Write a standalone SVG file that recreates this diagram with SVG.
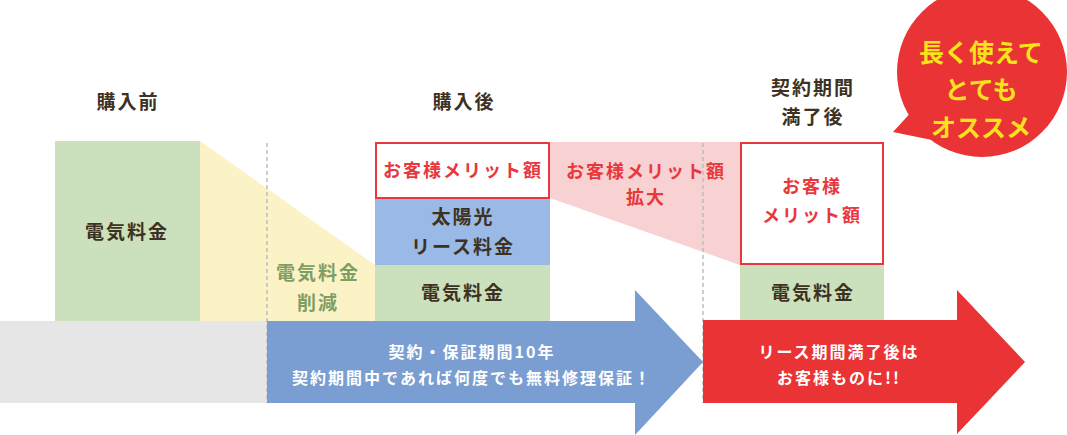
<svg xmlns="http://www.w3.org/2000/svg" width="1067" height="435" viewBox="0 0 1067 435">
<style>
text{font-family:"Noto Sans CJK JP","Noto Sans CJK SC",sans-serif;font-weight:bold;text-anchor:middle}
.dk{fill:#3d3222;font-size:19px;letter-spacing:2px}
.rd{fill:#e8383d;font-size:18px;letter-spacing:2px}
.gr{fill:#7f9e63;font-size:19px;letter-spacing:2px}
.wt{fill:#ffffff;font-size:16px;letter-spacing:2px}
.yl{fill:#f7e31c;font-size:25px}
.dash{stroke:#bdbdbd;stroke-width:1.5;stroke-dasharray:4 3;fill:none}
</style>
<rect width="1067" height="435" fill="#ffffff"/>
<g id="bands">
<polygon points="200,141 375,265 375,321 200,321" fill="#fbf2c6"/>
<polygon points="550,142 740,142 740,265 550,198" fill="#f8d2d2"/>
<rect x="0" y="321" width="267" height="82" fill="#e6e6e6"/>
</g>
<g id="col-before">
<rect x="55" y="141" width="145" height="180" fill="#cbe0bc"/>
<text class="dk" x="128" y="109">購入前</text>
<text class="dk" x="127" y="239">電気料金</text>
</g>
<g id="reduction"><text class="gr" x="318" y="280">電気料金</text><text class="gr" x="318" y="310">削減</text></g>
<g id="col-after">
<text class="dk" x="464" y="109">購入後</text>
<rect x="376" y="143" width="173" height="55" fill="#ffffff" stroke="#e8383d" stroke-width="2"/>
<text class="rd" x="463" y="177">お客様メリット額</text>
<rect x="375" y="199" width="175" height="66" fill="#9ab9e6"/>
<text class="dk" x="463" y="224">太陽光</text>
<text class="dk" x="463" y="254">リース料金</text>
<rect x="375" y="265" width="175" height="56" fill="#cbe0bc"/>
<text class="dk" x="463" y="300">電気料金</text>
</g>
<g id="expand"><text class="rd" x="646" y="178">お客様メリット額</text><text class="rd" x="646" y="204">拡大</text></g>
<g id="col-end">
<text class="dk" x="813" y="95">契約期間</text>
<text class="dk" x="813" y="124">満了後</text>
<rect x="741" y="143" width="142" height="121" fill="#ffffff" stroke="#e8383d" stroke-width="2"/>
<text class="rd" x="812" y="193">お客様</text>
<text class="rd" x="812" y="222">メリット額</text>
<rect x="740" y="265" width="144" height="56" fill="#cbe0bc"/>
<text class="dk" x="813" y="300">電気料金</text>
</g>
<g id="connectors">
<path class="dash" d="M267,143 V403"/>
<path class="dash" d="M703,143 V403"/>
<g id="arrow-blue">
<polygon points="267,321 635,321 635,290 703,362 635,435 635,403 267,403" fill="#7a9ed1"/>
<text class="wt" x="472" y="358">契約・保証期間10年</text>
<text class="wt" x="472" y="384">契約期間中であれば何度でも無料修理保証！</text>
</g>
<g id="arrow-red">
<polygon points="703,320 957,320 957,290 1025,362 957,434 957,403 703,403" fill="#e93334"/>
<text class="wt" x="839" y="358">リース期間満了後は</text>
<text class="wt" x="839" y="384">お客様ものに!!</text>
</g>
</g>
<g id="bubble">
<circle cx="982" cy="72" r="85" fill="#e93334"/>
<polygon points="893,132 915,108 932,140" fill="#e93334"/>
<text class="yl" x="981" y="62">長く使えて</text>
<text class="yl" x="981" y="99">とても</text>
<text class="yl" x="981" y="137">オススメ</text>
</g>
</svg>
